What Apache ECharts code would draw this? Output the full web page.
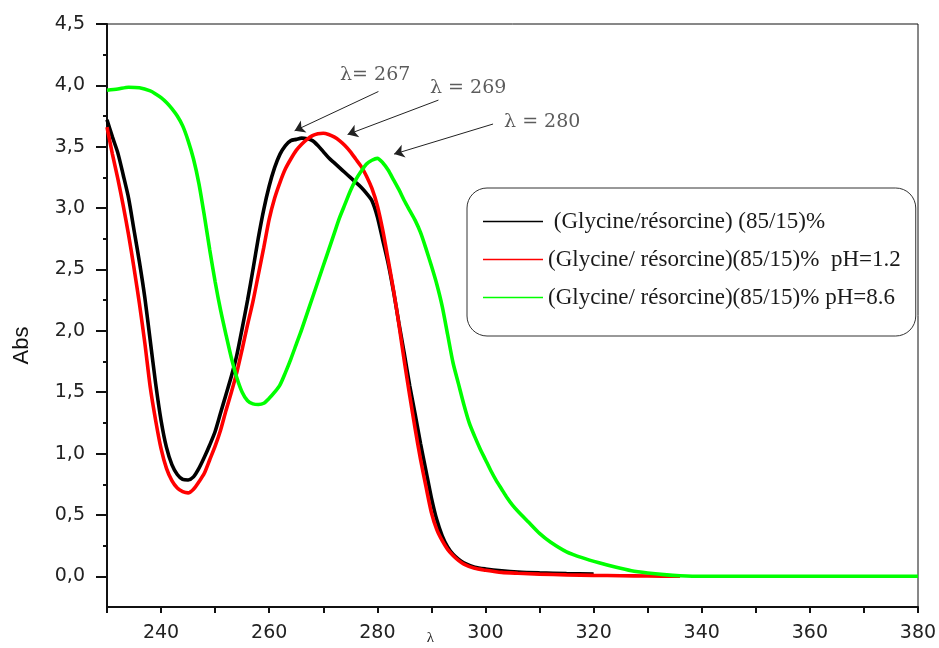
<!DOCTYPE html>
<html>
<head>
<meta charset="utf-8">
<script src="https://cdn.jsdelivr.net/npm/echarts@6/dist/echarts.min.js"></script>
<style>html,body{margin:0;padding:0;background:#fff;}#c{width:939px;height:648px;}</style>
</head>
<body>
<div id="c"></div>
<script>
// ---- data ----
const seriesNames = [
  '(Glycine/résorcine) (85/15)%',
  '(Glycine/ résorcine)(85/15)%  pH=1.2',
  '(Glycine/ résorcine)(85/15)% pH=8.6'
];
const blackX = [230,231,232,233,234,235,236,237,238,239,240,241,242,243,244,245,246,247,248,249,250,251,252,253,254,255,256,257,258,259,260,261,262,263,264,265,266,267,268,269,270,271,272,273,274,275,276,277,278,279,280,281,282,283,284,285,286,287,288,289,290,291,292,293,294,295,296,298,300,303,306,310,315,320];
const blackY = [3.72,3.58,3.45,3.27,3.08,2.82,2.56,2.27,1.92,1.57,1.27,1.05,0.91,0.83,0.79,0.785,0.81,0.88,0.97,1.07,1.18,1.33,1.48,1.63,1.80,2.02,2.25,2.50,2.76,2.99,3.18,3.33,3.44,3.51,3.55,3.56,3.57,3.565,3.55,3.51,3.46,3.41,3.37,3.33,3.29,3.25,3.21,3.17,3.12,3.06,2.93,2.74,2.55,2.32,2.06,1.81,1.55,1.32,1.08,0.86,0.64,0.46,0.33,0.24,0.18,0.14,0.11,0.075,0.06,0.045,0.035,0.028,0.022,0.018];
const redX = [230,231,232,233,234,235,236,237,238,239,240,241,242,243,244,245,246,247,248,249,250,251,252,253,254,255,256,257,258,259,260,261,262,263,264,265,266,267,268,269,270,271,272,273,274,275,276,277,278,279,280,281,282,283,284,285,286,287,288,289,290,291,292,293,294,295,296,298,300,303,306,310,315,320,325,330,336];
const redY = [3.66,3.44,3.24,3.02,2.78,2.51,2.22,1.90,1.54,1.27,1.04,0.88,0.78,0.72,0.69,0.68,0.71,0.77,0.84,0.95,1.06,1.19,1.35,1.50,1.66,1.85,2.05,2.24,2.46,2.68,2.91,3.08,3.21,3.32,3.40,3.47,3.52,3.56,3.59,3.605,3.61,3.60,3.58,3.55,3.51,3.46,3.40,3.34,3.26,3.16,3.02,2.82,2.58,2.33,2.05,1.75,1.47,1.20,0.95,0.73,0.52,0.38,0.29,0.22,0.17,0.13,0.10,0.065,0.05,0.032,0.025,0.018,0.012,0.008,0.005,0.003,0.0];
const greenX = [230,232,234,236,238,239,240,241,242,243,244,245,246,247,248,249,250,251,252,253,254,255,256,257,258,259,260,261,262,263,264,265,266,267,268,269,270,271,272,273,274,275,276,277,278,279,280,281,282,283,284,285,286,287,288,289,290,291,292,293,294,295,296,297,298,299,300,301,302,303,304,305,306,308,310,312,315,318,321,324,327,330,333,336,340,350,360,370,380];
const greenY = [3.96,3.97,3.985,3.98,3.955,3.93,3.90,3.86,3.81,3.75,3.67,3.55,3.40,3.20,2.94,2.66,2.40,2.17,1.97,1.78,1.62,1.50,1.43,1.405,1.40,1.41,1.45,1.50,1.56,1.66,1.77,1.89,2.01,2.14,2.27,2.40,2.53,2.66,2.79,2.92,3.03,3.14,3.23,3.30,3.36,3.39,3.405,3.37,3.31,3.23,3.15,3.06,2.98,2.90,2.80,2.67,2.53,2.38,2.20,1.97,1.74,1.57,1.40,1.25,1.14,1.04,0.95,0.86,0.78,0.71,0.64,0.58,0.53,0.44,0.35,0.28,0.20,0.15,0.11,0.075,0.045,0.027,0.014,0.005,0.0,0.0,0.0,0.0,0.0];
const yTicks = [0,0.5,1,1.5,2,2.5,3,3.5,4,4.5];
const yMinorTicks = [0.25,0.75,1.25,1.75,2.25,2.75,3.25,3.75,4.25];
const xTicks = [230,240,250,260,270,280,290,300,310,320,330,340,350,360,370,380];
const xLabelTicks = [240,260,280,300,320,340,360,380];
// peak annotations: [text x, text y, label], arrow [tailX, tailY, tipX, tipY]
const annotTexts = [[279.6,4.08,'λ= 267'],[296.8,3.976,'λ = 269'],[310.5,3.70,'λ = 280']];
const annotArrows = [[280.2,3.95,264.7,3.63],[291.3,3.88,274.5,3.60],[301.4,3.685,283.1,3.44]];

function pairs(xs, ys){ return xs.map((x,i)=>[x, ys[i]]); }
const colors = ['#000000','#ff0000','#00ff00'];
const dataSets = [pairs(blackX,blackY), pairs(redX,redY), pairs(greenX,greenY)];

const chart = echarts.init(document.getElementById('c'), null, {renderer:'canvas'});
const lineSeries = seriesNames.map((n,i)=>({
  name: n, type:'line', data: dataSets[i], showSymbol:false, symbol:'none',
  smooth:0.25, z: 2+i,
  lineStyle:{color:colors[i], width:3.6},
  itemStyle:{color:colors[i]},
  animation:false
}));
lineSeries[0].markLine = {
  silent:true, symbol:['none','arrow'], symbolSize:10, animation:false,
  label:{show:false},
  lineStyle:{color:'#222', width:1, type:'solid'},
  itemStyle:{color:'#222'},
  data: annotArrows.map(a=>[{coord:[a[0],a[1]]},{coord:[a[2],a[3]]}])
};
const fmt = v => v.toFixed(1).replace('.', ',');

chart.setOption({
  animation:false,
  backgroundColor:'#ffffff',
  grid:{left:107, right:21, top:24, bottom:41, containLabel:false, outerBoundsMode:'none',
        show:true, borderColor:'#111', borderWidth:1, backgroundColor:'transparent'},
  legend:{
    data: seriesNames, orient:'vertical', left:467, top:188,
    padding:[22,15,27,16], itemGap:15, itemWidth:60, itemHeight:1.5, icon:'rect',
    borderColor:'#333', borderWidth:1, borderRadius:20,
    formatter: n => n === seriesNames[0] ? ' ' + n : n,
    textStyle:{fontFamily:'Liberation Serif', fontSize:23, color:'#1a1a1a', lineHeight:23},
    selectedMode:false
  },
  xAxis:{
    type:'value', min:230, max:380,
    name:'λ', nameLocation:'middle', nameGap:24, nameMoveOverlap:false,
    nameTextStyle:{fontFamily:'Liberation Serif', fontSize:15, color:'#222', padding:[0,164,0,0]},
    axisLine:{show:true, onZero:false, lineStyle:{color:'#111', width:2}},
    axisTick:{show:true, length:6, lineStyle:{color:'#111', width:2}, customValues:xTicks},
    axisLabel:{customValues:xLabelTicks, margin:17, fontFamily:'DejaVu Sans', fontSize:19, color:'#222'},
    splitLine:{show:false}
  },
  yAxis:[{
    type:'value', min:-0.25, max:4.5,
    name:'Abs', nameLocation:'middle', nameGap:74, nameMoveOverlap:false,
    nameTextStyle:{fontFamily:'Liberation Sans', fontSize:22, color:'#111', padding:[0,60,0,0]},
    axisLine:{show:true, onZero:false, lineStyle:{color:'#111', width:2}},
    axisTick:{show:true, length:11, lineStyle:{color:'#111', width:2}, customValues:yTicks},
    axisLabel:{customValues:yTicks, formatter:fmt, margin:22, fontFamily:'DejaVu Sans', fontSize:19, color:'#222'},
    splitLine:{show:false}
  },{
    type:'value', min:-0.25, max:4.5, position:'left',
    axisLine:{show:false},
    axisTick:{show:true, length:4, lineStyle:{color:'#111', width:2}, customValues:yMinorTicks},
    axisLabel:{show:false},
    splitLine:{show:false}
  }],
  series: lineSeries.concat([{
    name:'annotations', type:'scatter', symbolSize:0, silent:true, z:10,
    data: annotTexts,
    label:{show:true, position:'inside', formatter:p=>p.data[2],
      fontFamily:'DejaVu Serif', fontSize:19, color:'#333'}
  }])
});
</script>
</body>
</html>
